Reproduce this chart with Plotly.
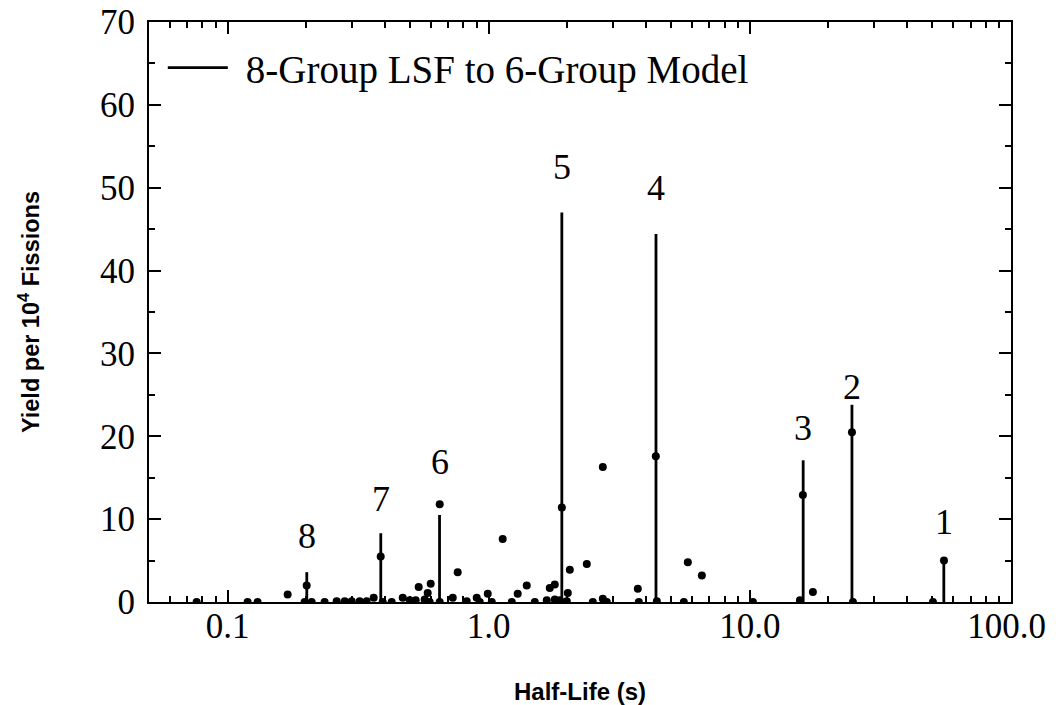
import numpy as np
import plotly.graph_objects as go

# ---- data ----
group_labels = ["1", "2", "3", "4", "5", "6", "7", "8"]
group_half_life = [55.3, 24.6, 16.0, 4.37, 1.905, 0.648, 0.386, 0.201]
group_yield = [5.0, 23.8, 17.1, 44.4, 47.0, 10.5, 8.3, 3.6]

precursor_half_life = [
    0.0761, 0.1193, 0.1302, 0.1698, 0.2008, 0.1972, 0.2098, 0.2352, 0.2616, 0.2808,
    0.2986, 0.3204, 0.3407, 0.3626, 0.3857, 0.3925, 0.4249, 0.4684, 0.4981, 0.5251,
    0.5392, 0.5684, 0.5837, 0.5994, 0.5940, 0.6490, 0.6490, 0.7281, 0.7605, 0.8235,
    0.8995, 0.9236, 0.9912, 1.027, 1.131, 1.225, 1.291, 1.398, 1.501, 1.668,
    1.713, 1.790, 1.790, 1.871, 1.905, 1.990, 2.008, 2.044, 2.374, 2.503,
    2.734, 2.734, 2.832, 3.723, 3.756, 4.364, 4.403, 5.586, 5.787, 6.548,
    10.27, 15.96, 15.55, 17.43, 24.60, 24.81, 50.24, 55.38,
]
precursor_yield = [
    0.0, 0.0, 0.0, 0.9, 2.0, 0.0, 0.0, 0.0, 0.1, 0.1,
    0.1, 0.1, 0.1, 0.5, 5.5, 0.0, 0.0, 0.5, 0.2, 0.2,
    1.8, 0.3, 1.1, 2.2, 0.0, 11.8, 0.0, 0.5, 3.6, 0.1,
    0.5, 0.0, 1.0, 0.0, 7.6, 0.0, 1.0, 2.0, 0.0, 0.2,
    1.7, 2.1, 0.3, 0.2, 11.4, 0.1, 1.1, 3.9, 4.6, 0.0,
    16.3, 0.4, 0.0, 1.6, 0.0, 17.6, 0.1, 0.0, 4.8, 3.2,
    0.0, 12.9, 0.2, 1.2, 20.5, 0.0, 0.0, 5.0,
]

x_tick_vals = [0.1, 1, 10, 100]
x_tick_text = ["0.1", "1.0", "10.0", "100.0&nbsp;"]
y_tick_vals = [0, 10, 20, 30, 40, 50, 60, 70]

# pixel gap between the top of each group's stem/point and its number label
label_gap_px = [17, -4, 10, 24, 24, 20, 12, 14]

# ---- figure ----
serif = "Liberation Serif"
sans = "Liberation Sans"

stem_x, stem_y = [], []
for h, v in zip(group_half_life, group_yield):
    stem_x += [h, h, None]
    stem_y += [0, v, None]

fig = go.Figure()
fig.add_trace(go.Scatter(
    x=stem_x, y=stem_y, mode="lines",
    line=dict(color="black", width=2.8),
    name="&nbsp;&#8202;8-Group LSF to 6-Group Model", showlegend=True,
))
fig.add_trace(go.Scatter(
    x=precursor_half_life, y=precursor_yield, mode="markers",
    marker=dict(color="black", size=8),
    showlegend=False, name="Precursors",
))

# group number labels above each stem (or above the point at its top)
ph = np.array(precursor_half_life)
py = np.array(precursor_yield)
for lbl, h, v, gap in zip(group_labels, group_half_life, group_yield, label_gap_px):
    near = py[np.abs(np.log10(ph) - np.log10(h)) < 0.005]
    base = max([v] + list(near))
    fig.add_annotation(
        x=np.log10(h), y=base, text=lbl, showarrow=False,
        xanchor="center", yanchor="bottom", yshift=gap,
        font=dict(family=serif, size=36, color="black"),
    )

minor_x = [k * 10.0 ** e for e in range(-2, 2) for k in range(2, 10)]
minor_x = [m for m in minor_x if 0.05 <= m <= 100]

fig.update_xaxes(
    type="log", range=[np.log10(0.05), 2], automargin=False,
    tickvals=x_tick_vals, ticktext=x_tick_text, ticklabeloverflow="allow",
    ticks="inside", ticklen=12, tickwidth=1.5, tickcolor="black",
    minor=dict(tickvals=minor_x, ticks="inside", ticklen=6, tickwidth=1.5,
               tickcolor="black", showgrid=False),
    showline=True, linecolor="black", linewidth=2, mirror="allticks",
    showgrid=False, zeroline=False, ticklabelstandoff=-8,
    tickfont=dict(family=serif, size=35, color="black"),
    title=dict(text="Half-Life (s)", standoff=40,
               font=dict(family=sans, size=24, color="black", weight="bold")),
)
fig.update_yaxes(
    range=[0, 70], tickvals=y_tick_vals, automargin=False,
    ticklabeloverflow="allow",
    ticks="inside", ticklen=12, tickwidth=1.5, tickcolor="black",
    minor=dict(dtick=5, ticks="inside", ticklen=6, tickwidth=1.5,
               tickcolor="black", showgrid=False),
    showline=True, linecolor="black", linewidth=2, mirror="allticks",
    showgrid=False, zeroline=False, ticklabelstandoff=5,
    tickfont=dict(family=serif, size=35, color="black"),
    title=dict(text="Yield per 10<sup>4</sup> Fissions", standoff=54,
               font=dict(family=sans, size=23.5, color="black", weight="bold")),
)

fig.update_layout(
    width=1048, height=697,
    margin=dict(l=141, r=45, t=14, b=103),
    plot_bgcolor="white", paper_bgcolor="white",
    legend=dict(x=0.016, y=0.921, xanchor="left", yanchor="middle",
                font=dict(family=serif, size=39, color="black"),
                bgcolor="rgba(0,0,0,0)", itemwidth=60),
)

fig.write_html("out.html")
